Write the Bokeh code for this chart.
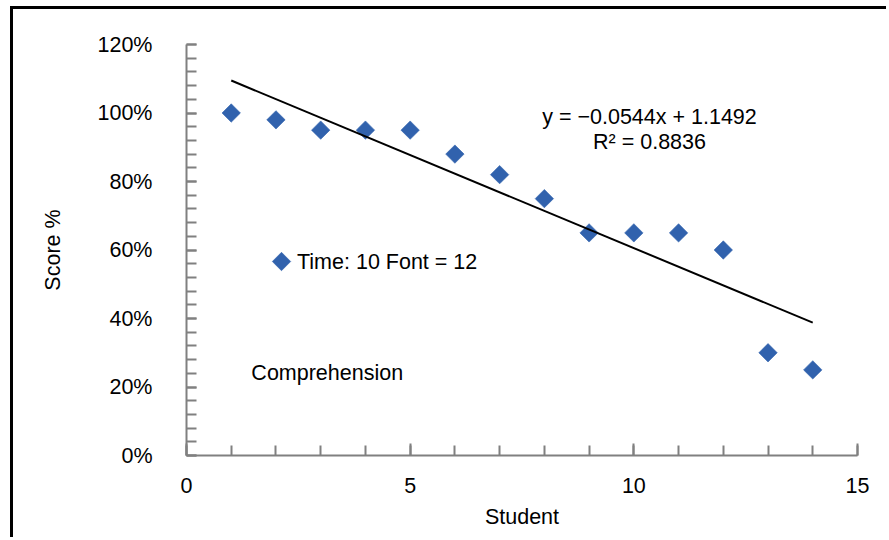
import math
import numpy as np
from bokeh.plotting import figure
from bokeh.models import (ColumnDataSource, Legend, LegendItem, Label,
                          SingleIntervalTicker, PrintfTickFormatter, Range1d)
from bokeh.embed import file_html
from bokeh.resources import INLINE

students = [1, 2, 3, 4, 5, 6, 7, 8, 9, 10, 11, 12, 13, 14]
scores_pct = [100, 98, 95, 95, 95, 88, 82, 75, 65, 65, 65, 60, 30, 25]
series_name = "Time: 10 Font = 12"
equation_text = "y = \u22120.0544x + 1.1492"
r2_text = "R\u00b2 = 0.8836"
note_text = "Comprehension"
x_title = "Student"
y_title = "Score %"

FONT = "Liberation Sans"
FS = "21.5px"
AXIS_GREY = "#808080"
BLUE = "#3162ad"
MARKER = dict(marker="square", size=13, angle=math.pi / 4,
              fill_color=BLUE, line_color=BLUE, line_alpha=0.6)

FRAME_W, FRAME_H = 671, 411
p = figure(width=876, height=531, output_backend="svg", toolbar_location=None,
           x_range=Range1d(0, 15), y_range=Range1d(0, 120),
           min_border_left=173, min_border_right=32, min_border_top=35, min_border_bottom=85)
p.styles = {"margin-left": "10px", "margin-top": "6px",
            "border-left": "3px solid black", "border-top": "3px solid black"}
p.outline_line_color = None
p.xgrid.visible = False
p.ygrid.visible = False
# pixel-based ranges used only to place the legend key marker
p.extra_x_ranges = {"px": Range1d(0, FRAME_W)}
p.extra_y_ranges = {"px": Range1d(0, FRAME_H)}

src = ColumnDataSource(dict(x=students, y=scores_pct))
p.scatter("x", "y", source=src, **MARKER)

# hidden twin renderer for the legend entry (key marker drawn separately, rotated)
leg_r = p.scatter("x", "y", source=src, marker="square", size=13,
                  fill_alpha=0, line_alpha=0, visible=False)

# legend key marker (layout position in pixels inside the frame)
p.scatter(x=[95], y=[194], x_range_name="px", y_range_name="px", **MARKER)

# linear trend line computed from the data
slope, intercept = np.polyfit(students, scores_pct, 1)
tx = [min(students), max(students)]
ty = [slope * v + intercept for v in tx]
p.line(tx, ty, line_color="black", line_width=2)

# axes
xa = p.xaxis[0]
xa.ticker = SingleIntervalTicker(interval=5, num_minor_ticks=5)
ya = p.yaxis[0]
ya.ticker = SingleIntervalTicker(interval=20, num_minor_ticks=5)
ya.formatter = PrintfTickFormatter(format="%d%%")
for ax in (xa, ya):
    ax.axis_line_color = AXIS_GREY
    ax.axis_line_width = 2
    ax.major_tick_line_color = AXIS_GREY
    ax.minor_tick_line_color = AXIS_GREY
    ax.major_tick_line_width = 2
    ax.minor_tick_line_width = 2
    ax.major_tick_out = 0
    ax.minor_tick_out = 0
    ax.major_label_text_font = FONT
    ax.major_label_text_font_size = FS
    ax.major_label_text_color = "black"
    ax.axis_label_text_font = FONT
    ax.axis_label_text_font_size = FS
    ax.axis_label_text_font_style = "normal"
    ax.axis_label_text_color = "black"
xa.major_tick_in = 12
xa.minor_tick_in = 10
ya.major_tick_in = 10
ya.minor_tick_in = 10
xa.major_label_standoff = 22
ya.major_label_standoff = 34
xa.axis_label = x_title
ya.axis_label = y_title
xa.axis_label_standoff = 9
ya.axis_label_standoff = 30

legend = Legend(items=[LegendItem(label=series_name, renderers=[leg_r], index=0)],
                location=(63, 169), border_line_color=None, background_fill_alpha=0,
                inactive_fill_alpha=0,
                label_text_font=FONT, label_text_font_size=FS, label_text_color="black",
                label_standoff=-7, glyph_width=48, glyph_height=48, padding=10, margin=0)
p.add_layout(legend, "center")

p.add_layout(Label(x=10.35, y=98.7, text=equation_text, text_align="center", text_baseline="middle",
                   text_font=FONT, text_font_size=FS, text_color="black"))
p.add_layout(Label(x=10.35, y=91.4, text=r2_text, text_align="center", text_baseline="middle",
                   text_font=FONT, text_font_size=FS, text_color="black"))
p.add_layout(Label(x=1.45, y=24.2, text=note_text, text_align="left", text_baseline="middle",
                   text_font=FONT, text_font_size=FS, text_color="black"))

open("out.html", "w").write(file_html(p, INLINE))
